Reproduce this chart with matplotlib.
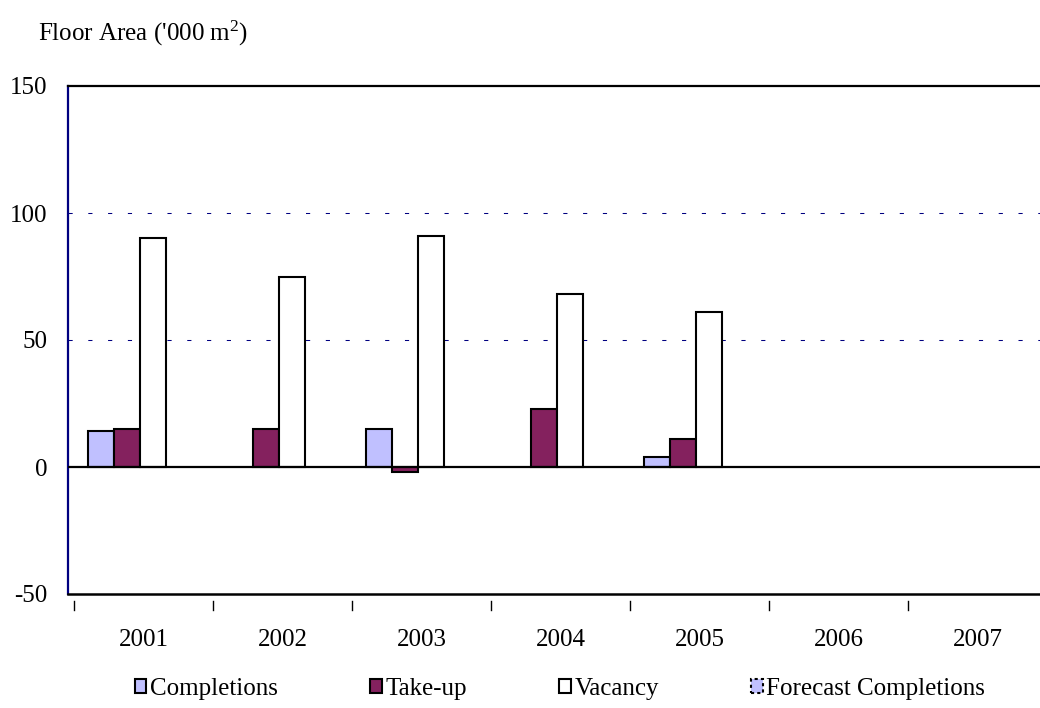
import matplotlib
matplotlib.use("Agg")
import matplotlib.pyplot as plt
import matplotlib.transforms as mtransforms
import numpy as np

plt.rcParams['font.family'] = ['Liberation Serif', 'DejaVu Serif']
plt.rcParams['mathtext.fontset'] = 'custom'
plt.rcParams['mathtext.rm'] = 'Liberation Serif'
plt.rcParams['mathtext.default'] = 'regular'

years = ['2001', '2002', '2003', '2004', '2005', '2006', '2007']
completions = [14, np.nan, 15, np.nan, 4, np.nan, np.nan]
take_up = [15, 15, -2, 23, 11, np.nan, np.nan]
vacancy = [90, 75, 91, 68, 61, np.nan, np.nan]
forecast_completions = [np.nan] * 7

series_names = ['Completions', 'Take-up', 'Vacancy', 'Forecast Completions']
series_values = [completions, take_up, vacancy, forecast_completions]
face_colors = ['#C0C0FF', '#84215E', '#FFFFFF', '#C0C0FF']
edge_styles = ['solid', 'solid', 'solid', (0, (1.5, 1.5))]

FS = 18

fig = plt.figure(figsize=(10.4, 7.08), dpi=100)
ax = fig.add_axes([68 / 1040, 1 - 594 / 708, 1 - 68 / 1040, (594 - 86) / 708])

x = np.arange(len(years))
width = 0.187
start = -0.4
bars = []
for k, (name, vals) in enumerate(zip(series_names, series_values)):
    b = ax.bar(x + start + k * width, vals, width=width, align='edge',
               color=face_colors[k], edgecolor='black', linewidth=1.5,
               linestyle=edge_styles[k], label=name)
    bars.append(b)

ax.set_ylim(-50, 150)
ax.set_xlim(-0.543, 6.45)
ax.set_yticks([-50, 0, 50, 100, 150])
ax.set_yticklabels(['-50', '0', '50', '100', '150'])
ax.tick_params(axis='y', length=0, pad=15, labelsize=FS)

# gridlines
for yv in [50, 100]:
    ax.axhline(yv, color='#000080', linewidth=0.75, linestyle=(0, (4, 15)), zorder=0)
ax.axhline(0, color='black', linewidth=1.6, zorder=3)

# spines
ax.spines['right'].set_visible(False)
ax.spines['top'].set_color('black')
ax.spines['top'].set_linewidth(1.6)
ax.spines['bottom'].set_color('black')
ax.spines['bottom'].set_linewidth(1.8)
ax.spines['left'].set_color('#000080')
ax.spines['left'].set_linewidth(1.6)

# category labels
ax.set_xticks(x)
ax.set_xticklabels(years)
ax.tick_params(axis='x', length=0, pad=25, labelsize=FS)

# boundary tick marks detached below the axis
trans = mtransforms.blended_transform_factory(ax.transData, ax.transAxes)
for b in np.arange(len(years)) - 0.5:
    ax.plot([b, b], [-0.013, -0.032], transform=trans, color='black',
            linewidth=1.0, clip_on=False)

fig.text(38 / 1040, 1 - 33 / 708, "Floor Area ('000 m$^{2}$)", fontsize=FS,
         va='center', ha='left')

leg = fig.legend(handles=bars, labels=series_names, loc='center',
                 bbox_to_anchor=(560 / 1040, 1 - 689 / 708), ncol=4, frameon=False,
                 fontsize=FS, handlelength=0.45, handleheight=0.45,
                 handletextpad=0.15, columnspacing=3.7, borderaxespad=0)

fig.savefig('out.png', dpi=100)
